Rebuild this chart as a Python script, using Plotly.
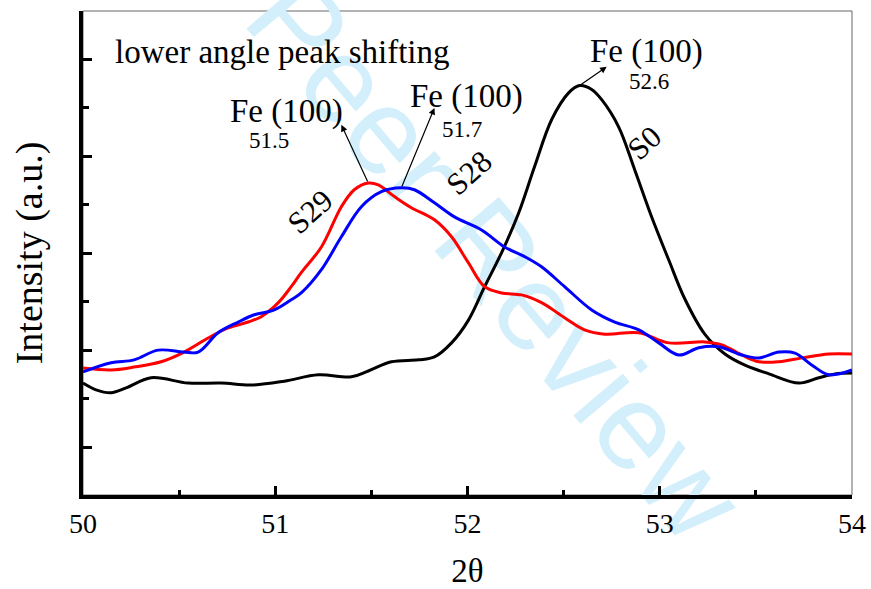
import numpy as np
import plotly.graph_objects as go

# 2theta / intensity (a.u.)
s0_x = [50.000, 50.068, 50.146, 50.224, 50.354, 50.547, 50.719, 50.875, 51.047, 51.224,
        51.396, 51.484, 51.604, 51.745, 51.828, 51.917, 52.005, 52.089, 52.177, 52.266,
        52.349, 52.438, 52.526, 52.583, 52.646, 52.698, 52.786, 52.870, 52.958, 53.047,
        53.130, 53.234, 53.339, 53.443, 53.568, 53.724, 53.828, 53.911, 54.000]
s0_y = [1.32, 1.18, 1.12, 1.22, 1.43, 1.32, 1.32, 1.28, 1.36, 1.49,
        1.45, 1.57, 1.76, 1.80, 1.86, 2.15, 2.62, 3.31, 4.01, 4.83,
        5.79, 6.76, 7.31, 7.46, 7.38, 7.17, 6.61, 5.72, 4.75, 3.86,
        3.06, 2.33, 1.92, 1.69, 1.51, 1.32, 1.43, 1.51, 1.53]

s29_x = [50.000, 50.146, 50.266, 50.406, 50.526, 50.651, 50.755, 50.859, 50.927, 51.016,
         51.083, 51.135, 51.240, 51.344, 51.411, 51.484, 51.536, 51.620, 51.708, 51.828,
         51.917, 52.005, 52.089, 52.177, 52.281, 52.385, 52.505, 52.609, 52.714, 52.891,
         53.047, 53.234, 53.323, 53.427, 53.516, 53.620, 53.740, 53.880, 54.000]
s29_y = [1.63, 1.59, 1.65, 1.76, 1.96, 2.25, 2.46, 2.58, 2.69, 2.98,
         3.31, 3.60, 4.13, 4.96, 5.31, 5.45, 5.41, 5.17, 4.94, 4.69,
         4.34, 3.80, 3.31, 3.18, 3.14, 2.98, 2.67, 2.42, 2.33, 2.36,
         2.15, 2.17, 2.11, 1.90, 1.76, 1.76, 1.84, 1.92, 1.92]

s28_x = [50.000, 50.146, 50.266, 50.391, 50.526, 50.599, 50.703, 50.807, 50.891, 50.995,
         51.083, 51.135, 51.240, 51.344, 51.448, 51.552, 51.656, 51.724, 51.828, 51.932,
         52.073, 52.193, 52.297, 52.385, 52.505, 52.646, 52.766, 52.891, 52.995, 53.099,
         53.203, 53.307, 53.427, 53.516, 53.620, 53.703, 53.792, 53.880, 54.000]
s28_y = [1.55, 1.74, 1.80, 2.00, 1.96, 1.96, 2.36, 2.58, 2.73, 2.83,
         3.04, 3.18, 3.66, 4.34, 4.96, 5.27, 5.35, 5.31, 5.04, 4.75,
         4.48, 4.13, 3.93, 3.72, 3.31, 2.83, 2.58, 2.42, 2.15, 1.90,
         2.05, 2.07, 1.90, 1.84, 1.96, 1.94, 1.69, 1.49, 1.59]

serif = "Liberation Serif"

fig = go.Figure()
fig.add_trace(go.Scatter(x=s0_x, y=s0_y, mode="lines", name="S0",
                         line=dict(color="black", width=3, shape="spline", smoothing=1)))
fig.add_trace(go.Scatter(x=s29_x, y=s29_y, mode="lines", name="S29",
                         line=dict(color="#ff0000", width=3, shape="spline", smoothing=1)))
fig.add_trace(go.Scatter(x=s28_x, y=s28_y, mode="lines", name="S28",
                         line=dict(color="#0000ff", width=3, shape="spline", smoothing=1)))

# arrows start at each curve's peak
def peak(xs, ys):
    i = int(np.argmax(ys))
    return xs[i], ys[i]

arrows = [(peak(s29_x, s29_y), (51.344, 6.65)),
          (peak(s28_x, s28_y), (51.828, 7.00)),
          (peak(s0_x, s0_y), (52.724, 7.85))]
for (tx, ty), (hx, hy) in arrows:
    fig.add_annotation(x=hx, y=hy, ax=tx, ay=ty, xref="x", yref="y", axref="x", ayref="y",
                       text="", showarrow=True, arrowhead=2, arrowsize=1.1, arrowwidth=1.2,
                       arrowcolor="black", standoff=0, startstandoff=0)

labels = [("lower angle peak shifting", 50.156, 8.16, 33, 0, "left"),
          ("Fe (100)", 51.057, 6.92, 33, 0, "center"),
          ("51.5", 50.969, 6.32, 23, 0, "center"),
          ("Fe (100)", 51.995, 7.23, 33, 0, "center"),
          ("51.7", 51.969, 6.55, 23, 0, "center"),
          ("Fe (100)", 52.932, 8.16, 33, 0, "center"),
          ("52.6", 52.943, 7.54, 23, 0, "center"),
          ("S29", 51.182, 4.86, 31, -42, "center"),
          ("S28", 52.010, 5.66, 31, -42, "center"),
          ("S0", 52.922, 6.28, 31, -42, "center")]
for txt, lx, ly, size, ang, anchor in labels:
    fig.add_annotation(x=lx, y=ly, xref="x", yref="y", text=txt, showarrow=False,
                       textangle=ang, xanchor=anchor,
                       font=dict(family=serif, size=size, color="black"))

# thin frame on top/right
fig.add_shape(type="rect", xref="paper", yref="paper", x0=0, x1=1, y0=0, y1=1,
              line=dict(color="#666666", width=1), layer="below")

# watermark
fig.add_shape(type="line", xref="paper", yref="paper", x0=0.380, y0=0.822, x1=0.716, y1=0.190,
              line=dict(color="rgba(0,0,0,0)", width=1), layer="below",
              label=dict(text="Peer Review", textposition="middle", yanchor="middle",
                         font=dict(family="Liberation Sans", size=122, color="#d2effb")))

fig.update_xaxes(range=[50, 54], dtick=1, tick0=50, ticks="inside", ticklen=9, tickwidth=3,
                 tickcolor="black", showline=True, linewidth=4, linecolor="black",
                 showgrid=False, zeroline=False, ticklabeloverflow="allow", automargin=False,
                 minor=dict(dtick=0.5, ticks="inside", ticklen=5, tickwidth=3, tickcolor="black"),
                 tickfont=dict(family=serif, size=28, color="black"),
                 title=dict(text="2θ", font=dict(family=serif, size=33, color="black"), standoff=24))
fig.update_yaxes(range=[-0.99, 9.0], dtick=2, tick0=0, ticks="inside", ticklen=9, tickwidth=3,
                 tickcolor="black", showline=True, linewidth=4, linecolor="black",
                 showgrid=False, zeroline=False, showticklabels=False, automargin=False,
                 minor=dict(dtick=1, ticks="inside", ticklen=6, tickwidth=3, tickcolor="black"),
                 title=dict(text="Intensity (a.u.)", font=dict(family=serif, size=38, color="black"),
                            standoff=26))

fig.update_layout(width=871, height=589, showlegend=False,
                  margin=dict(l=83, r=19, t=11, b=94),
                  paper_bgcolor="white", plot_bgcolor="rgba(0,0,0,0)")

# drop the page's default body margin so the figure fills the window
fig.write_html("out.html", config={"displayModeBar": False},
               post_script="document.body.style.margin='0';document.body.style.overflow='hidden';")
